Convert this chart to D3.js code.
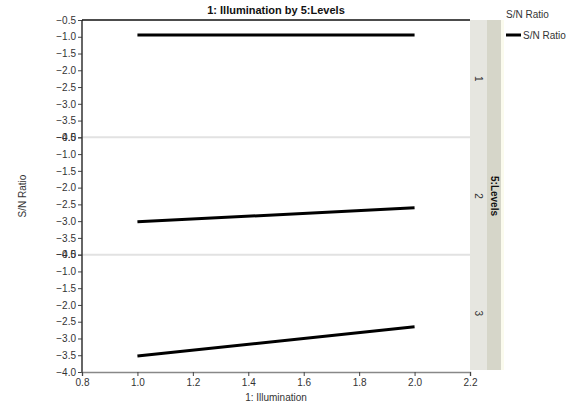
<!DOCTYPE html>
<html><head><meta charset="utf-8">
<script src="https://cdn.jsdelivr.net/npm/d3@7"></script>
<style>body{margin:0;background:#fff}svg{display:block;font-family:"Liberation Sans",Arial,sans-serif}</style>
</head><body>
<script>
const levels = ["1","2","3"];
const xValues = [1.0, 2.0];
const seriesValues = [
  [-0.95, -0.95],
  [-3.02, -2.6],
  [-3.52, -2.65]
];
const xTicks = [0.8,1.0,1.2,1.4,1.6,1.8,2.0,2.2];
const yTicks = [-4.0,-3.5,-3.0,-2.5,-2.0,-1.5,-1.0,-0.5];
const title = "1: Illumination by 5:Levels";
const xLabel = "1: Illumination";
const yLabel = "S/N Ratio";
const stripTitle = "5:Levels";
const legendTitle = "S/N Ratio";
const legendItem = "S/N Ratio";

const W=566,H=408;
const L=82,R=470,T=20,B=372;
const svg=d3.select("body").append("svg").attr("width",W).attr("height",H);
const x=d3.scaleLinear().domain([0.8,2.2]).range([L,R]);
const ph=(B-T)/levels.length;
const yScales=levels.map((d,i)=>d3.scaleLinear().domain([-4,-0.5]).range([T+(i+1)*ph,T+i*ph]));

// strips
svg.append("rect").attr("x",R).attr("y",T).attr("width",17).attr("height",B-T-2).attr("fill","#e6e6e0");
svg.append("rect").attr("x",R+17).attr("y",T).attr("width",14).attr("height",B-T-2).attr("fill","#d6d6c9");
svg.append("rect").attr("x",R+31).attr("y",T).attr("width",3).attr("height",B-T-2).attr("fill","#fbfbee");
levels.forEach((lv,i)=>{
  const cy=T+i*ph+ph/2;
  svg.append("text").attr("transform",`translate(${R+8},${cy}) rotate(90)`).attr("text-anchor","middle").attr("dy","0.35em")
    .attr("font-size",10).attr("fill","#333").text(lv);
});
svg.append("text").attr("transform",`translate(${R+24},${T+(B-T)/2}) rotate(90)`).attr("text-anchor","middle").attr("dy","0.35em")
  .attr("font-size",10).attr("font-weight","bold").attr("fill","#111").text(stripTitle);

// separators
levels.slice(1).forEach((d,i)=>{
  const yy=T+(i+1)*ph;
  svg.append("line").attr("x1",L).attr("x2",R).attr("y1",yy).attr("y2",yy).attr("stroke","#e2e2e2").attr("stroke-width",2);
});

// y axes per panel
yScales.forEach((ys,i)=>{
  const g=svg.append("g").attr("transform",`translate(${L},0)`)
    .call(d3.axisLeft(ys).tickValues(yTicks).tickFormat(d3.format(".1f")).tickSize(4).tickPadding(2));
  g.select(".domain").remove();
  g.selectAll("line").attr("stroke","#444");
  g.selectAll("text").attr("font-size",10).attr("fill","#333").attr("font-family","Liberation Sans, Arial, sans-serif");
});
svg.append("line").attr("x1",L).attr("x2",L).attr("y1",T).attr("y2",B).attr("stroke","#333").attr("stroke-width",1.5);
svg.append("line").attr("x1",L).attr("x2",R).attr("y1",T).attr("y2",T).attr("stroke","#111").attr("stroke-width",1.5);

// x axis
const gx=svg.append("g").attr("transform",`translate(0,${B})`)
  .call(d3.axisBottom(x).tickValues(xTicks).tickFormat(d3.format(".1f")).tickSize(4).tickPadding(3));
gx.select(".domain").attr("stroke","#888").attr("stroke-width",1.5);
gx.selectAll("line").attr("stroke","#444");
gx.selectAll("text").attr("font-size",10).attr("fill","#333").attr("font-family","Liberation Sans, Arial, sans-serif");

// lines
const line=d3.line();
seriesValues.forEach((vals,i)=>{
  svg.append("path").attr("d",line(vals.map((v,j)=>[x(xValues[j]),yScales[i](v)])))
    .attr("fill","none").attr("stroke","#000").attr("stroke-width",3);
});

// labels
svg.append("text").attr("x",(L+R)/2).attr("y",14).attr("text-anchor","middle").attr("font-size",11).attr("font-weight","bold").attr("fill","#111").text(title);
svg.append("text").attr("x",(L+R)/2).attr("y",401).attr("text-anchor","middle").attr("font-size",10).attr("fill","#333").text(xLabel);
svg.append("text").attr("transform",`translate(22,${(T+B)/2}) rotate(-90)`).attr("text-anchor","middle").attr("dy","0.35em").attr("font-size",10).attr("fill","#333").text(yLabel);

// legend
svg.append("text").attr("x",506).attr("y",18).attr("font-size",10).attr("fill","#333").text(legendTitle);
svg.append("line").attr("x1",506).attr("x2",521).attr("y1",35).attr("y2",35).attr("stroke","#000").attr("stroke-width",3);
svg.append("text").attr("x",523).attr("y",39).attr("font-size",10).attr("fill","#333").text(legendItem);
</script>
</body></html>
